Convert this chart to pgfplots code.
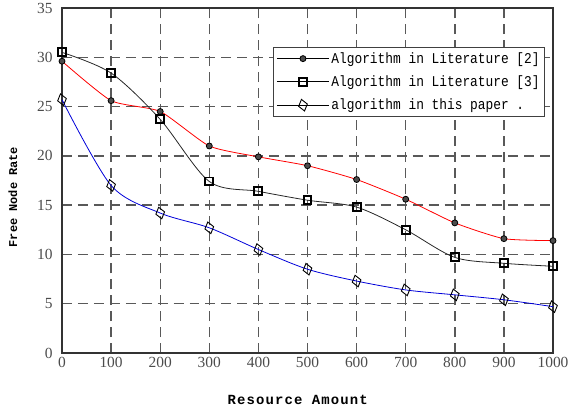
\documentclass[border=0pt]{standalone}
\usepackage{pgfplots}
\pgfplotsset{compat=1.18}
\usepackage{fontspec}
\setmainfont{Liberation Serif}
\newfontfamily\monof[FakeStretch=0.86]{Liberation Mono}
\newfontfamily\labf[LetterSpace=8]{Liberation Mono}
\newfontfamily\ylabf{Liberation Mono}
\begin{document}
\begin{tikzpicture}
\begin{axis}[
  scale only axis, width=491bp, height=345bp,
  xmin=0, xmax=1000, ymin=0, ymax=35,
  xtick={0,100,...,1000}, ytick={0,5,...,35},
  /pgf/number format/assume math mode=true,
  /pgf/number format/set thousands separator={},
  tick label style={font=\fontsize{15.5}{15.5}\selectfont, text=black!70},
  xticklabel style={yshift=-1pt},
  yticklabel style={xshift=-6pt},
  grid=major,
  major grid style={black!65, line width=1.4pt, dash pattern=on 10pt off 6pt},
  axis line style={black!80, line width=1.4pt},
  tick style={draw=none},
  xlabel={\labf\bfseries\fontsize{14}{14}\selectfont Resource Amount},
  ylabel={\ylabf\bfseries\fontsize{12}{12}\selectfont Free Node Rate},
  xlabel style={at={(ticklabel cs:0.48)}, yshift=-21pt},
  ylabel style={at={(ticklabel cs:0.452)}, yshift=13pt},
  legend style={at={(0.984,0.887)}, anchor=north east, draw=black!75, line width=1pt,
    font=\monof\fontsize{15}{16}\selectfont, row sep=7pt, inner sep=3pt},
  legend cell align=left,
  legend image code/.code={\draw[mark repeat=2,mark phase=2] plot coordinates {(0bp,0bp) (26bp,0bp) (52bp,0bp)};},
]
\coordinate (ll) at (rel axis cs:0,0);
\coordinate (ur) at (rel axis cs:1,1);
\addplot[red, line width=0.8pt, smooth, tension=0.35, mark=*, mark size=3pt,
  mark options={draw=black, fill=black!70, solid}, forget plot] coordinates {
(0,29.6) (100,25.6) (200,24.5) (300,21.0) (400,19.9) (500,19.0) (600,17.6) (700,15.6) (800,13.2) (900,11.6) (1000,11.4)};
\addplot[black!85, line width=0.8pt, smooth, tension=0.5, mark=square, mark size=4pt,
  mark options={draw=black, line width=2pt, fill=white, solid}, forget plot] coordinates {
(0,30.5) (100,28.4) (200,23.7) (300,17.4) (400,16.4) (500,15.5) (600,14.8) (700,12.5) (800,9.7) (900,9.1) (1000,8.8)};
\addplot[blue!85!black, line width=0.8pt, smooth, tension=0.5, mark=diamond, mark size=6pt,
  mark options={draw=black, line width=0.9pt, fill=none, solid, rotate=15}, forget plot] coordinates {
(0,25.7) (100,17.0) (200,14.2) (300,12.7) (400,10.5) (500,8.5) (600,7.3) (700,6.4) (800,5.9) (900,5.4) (1000,4.7)};
\addlegendimage{black, line width=0.9pt, mark=*, mark size=3pt, mark options={fill=black!70}}
\addlegendentry{Algorithm in Literature [2]}
\addlegendimage{black, line width=0.9pt, mark=square, mark size=4pt, mark options={line width=2pt}}
\addlegendentry{Algorithm in Literature [3]}
\addlegendimage{black, line width=0.9pt, mark=diamond, mark size=6pt, mark options={rotate=15}}
\addlegendentry{algorithm in this paper .}
\end{axis}
\pgfresetboundingbox
\path ([shift={(-62bp,-61bp)}]ll) rectangle ([shift={(16bp,8bp)}]ur);
\end{tikzpicture}
\end{document}
